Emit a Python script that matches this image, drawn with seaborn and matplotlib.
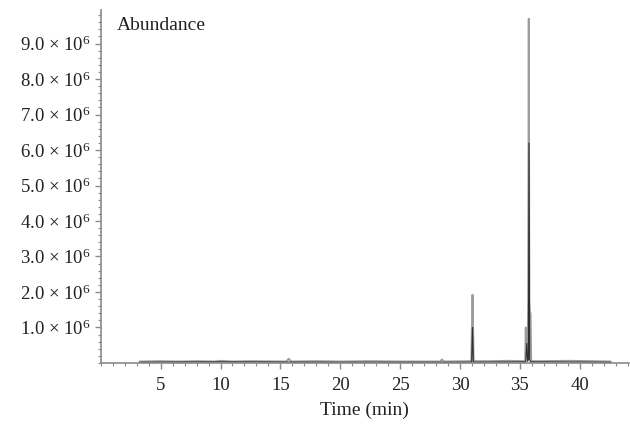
import numpy as np
import pandas as pd
import seaborn as sns
import matplotlib.pyplot as plt
from matplotlib.ticker import MultipleLocator, FuncFormatter

# Chromatogram traces (time in min, abundance in 1e6 counts)
gray_time = [3.25, 5.0, 6.5, 8.0, 9.5, 10.0, 11.0, 12.5, 15.5, 15.7, 15.9, 18.0, 20.0,
             22.5, 25.0, 28.35, 28.5, 28.65, 30.95, 31.0, 31.03, 31.05, 31.07, 31.1,
             31.14, 32.5, 34.0, 35.45, 35.5, 35.55, 35.65, 35.7, 35.75, 35.8, 35.85,
             35.9, 35.95, 37.0, 39.0, 41.0, 42.6]
gray_abund = [0.04, 0.05, 0.04, 0.05, 0.04, 0.06, 0.04, 0.05, 0.04, 0.12, 0.04, 0.05, 0.04,
              0.05, 0.04, 0.04, 0.10, 0.04, 0.05, 1.00, 1.00, 1.92, 1.00, 1.00,
              0.05, 0.05, 0.06, 0.05, 1.00, 0.30, 0.30, 1.75, 9.70, 1.75, 1.40,
              1.40, 0.05, 0.05, 0.06, 0.05, 0.04]

dark_time = [3.25, 10.0, 20.0, 30.98, 31.05, 31.12, 35.5, 35.58, 35.65, 35.72, 35.77,
             35.82, 35.9, 42.6]
dark_abund = [0.02, 0.03, 0.02, 0.02, 1.00, 0.02, 0.03, 0.55, 0.05, 0.10, 6.20,
              0.10, 0.03, 0.02]

gray_df = pd.DataFrame({"time": gray_time, "abund": np.array(gray_abund) * 1e6})
dark_df = pd.DataFrame({"time": dark_time, "abund": np.array(dark_abund) * 1e6})

sns.set_style("ticks")
plt.rcParams["font.family"] = ["Liberation Serif", "DejaVu Serif"]
plt.rcParams["mathtext.fontset"] = "custom"
plt.rcParams["mathtext.rm"] = "Liberation Serif"
plt.rcParams["mathtext.it"] = "Liberation Serif:italic"

fig = plt.figure(figsize=(6.3, 4.28), dpi=100)
ax = fig.add_axes([0.160, 0.152, 0.838, 0.825])

sns.lineplot(data=gray_df, x="time", y="abund", ax=ax, color="#9c9c9c", lw=1.4)
sns.lineplot(data=dark_df, x="time", y="abund", ax=ax, color="#2e2e2e", lw=0.8)

ax.set_xlim(0, 44.1)
ax.set_ylim(0, 9.95e6)
ax.xaxis.set_minor_locator(MultipleLocator(1))
ax.yaxis.set_minor_locator(MultipleLocator(2e5))
ax.set_xticks([5, 10, 15, 20, 25, 30, 35, 40])
ax.set_yticks([i * 1e6 for i in range(1, 10)])
ax.yaxis.set_major_formatter(FuncFormatter(lambda v, p: "%.1f $\\times$ 10$^{6}$" % (v / 1e6)))

for s in ["top", "right"]:
    ax.spines[s].set_visible(False)
for s in ["left", "bottom"]:
    ax.spines[s].set_color("#8a8a8a")
    ax.spines[s].set_linewidth(1.2)

ax.tick_params(which="major", length=4, width=1, color="#8a8a8a", labelsize=13.5,
               labelcolor="#222222")
ax.tick_params(axis="x", which="major", pad=6)
ax.tick_params(which="minor", length=2.5, width=0.8, color="#8a8a8a")

ax.set_xlabel("Time (min)", fontsize=14, color="#222222", labelpad=6)
ax.set_ylabel("")
ax.text(0.03, 0.98, "Abundance", transform=ax.transAxes, fontsize=14,
        color="#222222", va="top", ha="left")

fig.savefig("out.png", dpi=100)
